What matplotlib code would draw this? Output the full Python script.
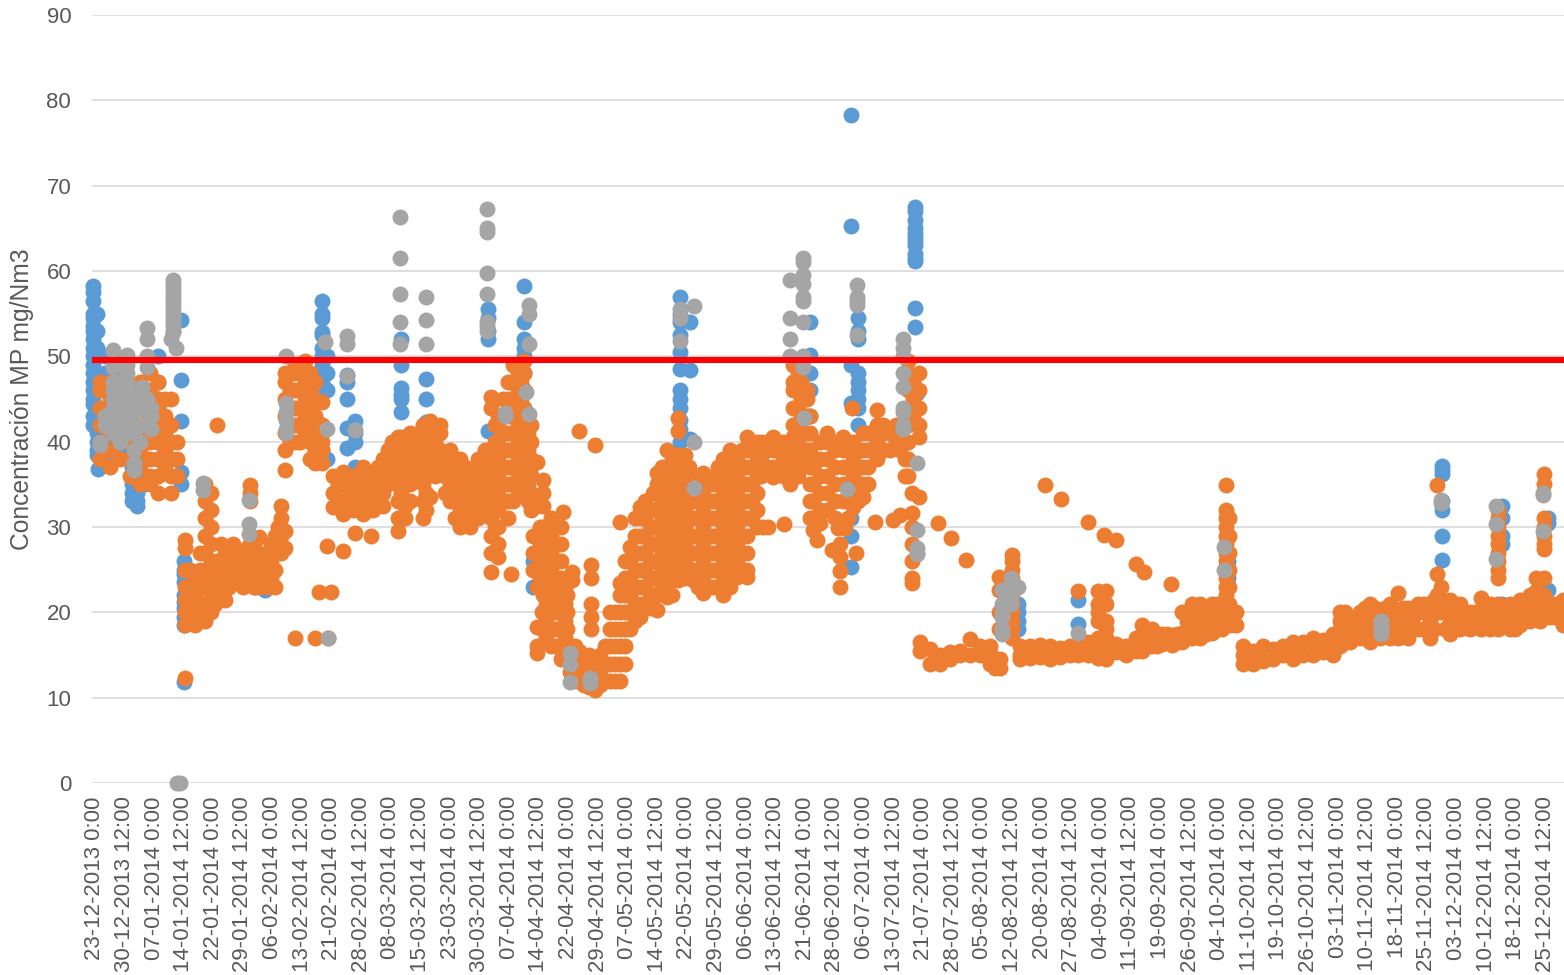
import matplotlib
matplotlib.use("Agg")
import matplotlib.pyplot as plt
from matplotlib.transforms import ScaledTranslation

plt.rcParams['font.family'] = ['Liberation Sans', 'DejaVu Sans']

tick_labels = ["23-12-2013 0:00","30-12-2013 12:00","07-01-2014 0:00","14-01-2014 12:00","22-01-2014 0:00",
"29-01-2014 12:00","06-02-2014 0:00","13-02-2014 12:00","21-02-2014 0:00","28-02-2014 12:00",
"08-03-2014 0:00","15-03-2014 12:00","23-03-2014 0:00","30-03-2014 12:00","07-04-2014 0:00",
"14-04-2014 12:00","22-04-2014 0:00","29-04-2014 12:00","07-05-2014 0:00","14-05-2014 12:00",
"22-05-2014 0:00","29-05-2014 12:00","06-06-2014 0:00","13-06-2014 12:00","21-06-2014 0:00",
"28-06-2014 12:00","06-07-2014 0:00","13-07-2014 12:00","21-07-2014 0:00","28-07-2014 12:00",
"05-08-2014 0:00","12-08-2014 12:00","20-08-2014 0:00","27-08-2014 12:00","04-09-2014 0:00",
"11-09-2014 12:00","19-09-2014 0:00","26-09-2014 12:00","04-10-2014 0:00","11-10-2014 12:00",
"19-10-2014 0:00","26-10-2014 12:00","03-11-2014 0:00","10-11-2014 12:00","18-11-2014 0:00",
"25-11-2014 12:00","03-12-2014 0:00","10-12-2014 12:00","18-12-2014 0:00","25-12-2014 12:00"]
samples_per_tick = 29.6
limit_value = 49.6

# Each row: sample number, then the concentrations read at that sample
blue_rows = [
[0,58.3,57.5,56.5,55,54.5,53.5,53,52,51,50,49,48,47,46,45,44.4,43,42],
[4,55,53,51,50,48,46,44,42,41,40,39,38.4],[5,36.8],
[12,50,48,46,44,42,40,38.5],[22,50,48,46,44,42,40,38.5],[32,46,44,42,40,38.5],
[39,37,36,35,34,33],[44,36,35,34,33,32.5],[52,38,36,35],[65,50,47,45,40,38],
[88,54.3,47.2,42.4,36.5,35],
[91,26,25,24.5,23.5,22,21.2,20.5,19.5,18.5,11.8],[97,20,19,21],[105,21,24],
[162,23,24],[172,22.6],
[229,56.5,55,54.5,52.8,52.5,51,50,49,48,47,46,42,41,39],[234,50,48,46,38],
[254,47.8,47,45,41.6,39.3],[262,42.4,41,40,37,36],[270,36],
[308,52,49,46.3,45.5,45,43.5,40.6,31],[333,47.4,45,42.3,41.5,40,38],
[395,55.5,54.5,53,52,41.3],[431,58.2,54,52,51,50,48,46,44,43,42],[437,36.5,32.8],
[440,26,23],
[587,57,55,54,52.5,50.5,48.5,46,45,44,42.5,41.5,40],[597,54,48.4,40.3],
[717,54,50.2,48,46,43],[758,78.3,65.3,49,44.5,31,28.9,25.3],
[765,54.5,53,52,48,47,46,45,44,42,33.5],
[822,67.5,67,66,65,64.5,64,63.5,63,62,61.5,61.2,55.7,53.4],[824,45.7],
[925,21,20,19,18],[985,21.5,18.6],[1135,26,25,24,23],
[1349,37.2,36.7,36.2,33,32,28.9,26.1],[1409,32.5,31,29,28,21],[1455,31,30.5,22.6],
]

orange_winter = [
[7,38,40,42,44,46,47],[17,37,39,41,43,45,47],[27,38,40,42,44,46,47],[37,36,38,40,42,44,46],
[47,35,37,39,41,43,45,47],[57,35,36,38,40,42,44,46,48],[65,34,36,38,40,42,44,45,47],
[72,37,39,41,43,45],[78,34,36,38,40,42,45],[84,36,38,40],
[92,12.3,18.5,20,21.5,23,25,27.5,28.5],[102,18.5,20,22,24],[112,19,21,23,25,27,29,31,33,35],
[118,20,22,24,26,28,30,32,34],[124,42,22,24,26],[132,21.5,23.5,25,27],[140,24,26,28],
[150,23,25,27],[157,34.9,34,33,24,26,28],[166,28.8,23,25,27],[175,23,25,27],[182,23,25,27,29],
[188,27,29,31,32.5],[192,27.5,29.5,36.7,39,41,43,45,47,48],[202,40,42,44,46,48,49],[212,41,43,45,47,49.5],
[222,37.5,39,41,43,45,47],[229,37.5,39,40,42,44.7],[202,17],[222,17],[235,17],[226,22.4],[238,22.4],
[234,27.8],[250,27.2],[262,29.3],[278,29],
[240,32.3,34,36],[250,31.5,33,35,36.5],[260,32,34,36],[270,31.5,33,35,37],[280,32,34,36],[290,32.5,34,36,38],
[299,36,38,40],[305,29.5,31,33,35,37,39,40.5],[312,31,32.5,35,37,39,40],[322,36,38,40],[330,31,33,35,37,39,41,42],
[337,33.5,37,39,41,42.4],[347,37,39,41,42],[357,33,35,37,39],[367,30,32,34,36,38],[377,30,32,34,36],
[385,31,33,35,37,38],[392,33,35,37,39],
[97,19,21,23,25],[107,19.5,21,23,25,27],[122,21,23,25],[128,22,24,26,28],[136,23,25,27],[145,24,26],
[154,23.5,25.5,27.5],[161,23,24.5,26,28],[170,23.5,25.5],[178,24,26,28],[185,28,30],
[197,40,42,44,46,48],[207,40,42,44,46,48],[217,38,40,42,44,46,48],
[245,33,35],[255,32.5,34.5,36],[265,33,35,36],[275,32,34,36],[285,33,35,37],[295,35,37,39],[308,34,36,38],
[317,33,35,37,39,41],[326,37,39,41],[333,32,34,36,38,40],[342,36,38,40],[352,34,36,38],[362,31,33,35,37],
[372,31,33,35,37],[381,32,34,36],[388,32,34,36,38],
]

orange_spring = [
[398,24.7,27,29,31,33,35,37,39,44,45.2],[405,26.5,28,30,32,34,36,38,40,42,43],
[415,31,33,35,37,39,41,43,45,47],[418,24.5],[425,34,36,38,40,42,44,46,48,49],
[431,36,38,40,42,44,46,48,49.5],[438,32,34,36,38,40,42],[444,23,25,27,29,37.6],
[450,35.5,34,32.5,30,28,26,24,22],[444,32.5],[458,31,29,27,25,23,21],[470,31.8],[468,30,28,26,24,22,20],
[444,18.3,16,15.2],[453,17,19,21],[463,16,18,20],[474,14.4,16,18,20,22],[479,24.7,23.8],
[486,41.2],[502,39.6],[498,25.5,24],[498,21,19.5,18],[477,13,15],[486,12,14,15.5],[496,11.2,13,15],
[502,10.9,12.5,14],[512,12,14,16],[522,12,14,16,18,20],[527,12,14,16,18,20,22,23.4,30.6],[537,18,20,22,24,26,27.7],
[547,19.5,21,23,25,27,29,31,32.4],[557,20.5,22,24,26,28,30],[564,20.3,22,24,26,28,30,32,34,35,36.3],
[574,21.8,23,25,27,29,31,33,35,37,39],[585,42.8,41.2,38.4,37,35,33,31,29,27,25,23.8],[592,38.4,36,34,32,30,28,26,24],
[600,23.8,25,27,29,31,33,35.5],[610,22.3,24,26,28,30,32,34,36.3],[620,23,25,27,29,31,33,35,35.9],
[630,22,24,26,28,30,32,34,36,38],[644,24.1,26,28,30,32,34,36,38,38.7],[654,24.1,25,27,29,31,33,35,37,39,40.5],
[664,30,32,34,36,38,40],[680,35.9,37,39,40.5],[670,30],[675,30],[691,30.3],[697,35,37,39,40],
[700,40.5,42,44,46,47,49],[714,37.5,39,41,43,45,46],[720,29.6,31,33,35,37],[724,28.5],
[734,32,34,36,38,40,41],[739,27.3],[745,29.9],[752,29.9],[747,26.5,24.8,23,28],[763,27],[759,44],
[750,33,35,37,39,40.5],[760,32.3,34,36,38,40],[770,33.5,35,37,39,41],[784,38,40,42,43.7],
[797,39,41,41.4],[807,39,41,42],[782,30.6],[800,30.8],[807,31.4],[815,36,38,40,42,44,46,48,49.5],
[819,34,31.6,30,28,26,24,23.4],[826,33.5,40.5,42,44,46,48],[845,30.5],
[402,30,32,34,36,38,40,42],[410,33,35,37,39,41,43,45],[420,33,35,37,39,41,43,45,47,49],
[428,37,39,41,43,45,47,49],[435,33,35,37,39,41,43],[447,24,26,28,30],[455,22,24,26,28,30],[449,18,20],
[440,25,27,29],[463,22,24,26,28],[472,15,17,19,21,23],[458,16,18],[468,14.5,16,18],
[482,12,14,16],[491,11.5,13.5,15],[507,11.5,13,15],[517,12,14,16,18,20],[532,14,16,18,20,22,24,26],
[542,19,21,23,25,27,29,31],[552,21,23,25,27,29,31,33],[560,22,24,26,28,30,32,34],[569,23,25,27,29,31,33,35,37],
[579,22,24,26,28,30,32,34,36,38],[589,24,26,28,30,32,34,36,38],[596,25,27,29,31,33,35,37],
[605,23,25,27,29,31,33,35],[615,23,25,27,29,31,33,35],[625,23,25,27,29,31,33,35,37],
[637,23,25,27,29,31,33,35,37,39],[649,25,27,29,31,33,35,37,39],[659,31,33,35,37,39,40],[668,36,38,40],
[674,37,39,40],[685,37,39],[690,36,38,40],[705,36,38,40,42,44,46,48],[708,37,39,41,43,45,47],
[717,31,33,35,37,39,41,43],[727,30.5,32,34,36,38,40],[742,31,33,35,37,39,40],[755,31,33,35,37,39],
[765,33,35,37,39],[775,35,37,39,41],[790,39,41,42],[803,40,42],[812,36,38,40,42],[820,43,45,47],
]

orange_summer = [
[827,16.5,15.5],[837,14,15.7],[847,14,15],[857,14.5,15.3],[867,15,15.5],[877,15,16.9],[887,15,16],
[897,14,15.2,16],[902,13.5,14.5],[907,13.5,14.5],[858,28.7],[873,26.1],
[906,24.1,22.6,20,18],[919,26.7,26,25,24,23,22,21,20,19,18,17],[927,15,16,14.5],[937,14.6,16],[947,14.8,16.2],
[957,14.5,16],[967,14.8,15.8],[977,15,16],[985,22.5,15,16],[995,15,16.5],[1005,14.6,15.5,17,22.5,21,20,19],
[1013,22.5,21,19,18,17,16,15,14.5],[952,34.9],[968,33.3],[995,30.6],[1011,29.1],[1023,28.5],
[1043,25.7],[1051,24.7],[1078,23.3],[1023,15.3,16.3],[1033,15,16],[1043,15.5,17],[1049,15.5,17,18.5],
[1059,16,17,18],[1069,16.3,17.5],[1079,16.2,17.4],[1089,16.5,17.6,20],[1099,17,18,19,21],[1107,17,18.5,20,21],
[1119,17.6,19,21],[1129,18,19.5,21],[1133,34.9,32,31,30,29,28,27,26,25,24,23,22,21,20,19],[1143,18.5,20],
[1064,16,17.5],[1074,16.5,17.5],[1084,16.5,17.5],[1094,17,18,19,20],[1103,17.5,19,20.5],[1113,17.5,19,20.5],
[1124,18,19.5,21],[1136,31,29,27,25,23,21],[1138,18.5,20],
]

orange_autumn = [
[1150,14,15,16],[1160,14,15.5],[1170,14.3,16],[1180,14.5,15.7],[1190,15,16],[1200,14.5,15.5,16.5],
[1210,15,16.5],[1220,15,16.5,17],[1230,15.3,16.8],[1240,15,16,17.5],[1247,16,17,18,19,20],
[1257,16.5,18,19.5],[1267,17,18.5,20],[1277,16.5,18,20,21],[1287,17,18.5,20],[1297,17,19,21],
[1305,17,18.5,20,22.3],[1315,17,19,20.5],[1325,18,20,21],[1337,17,19,21],[1344,20,22,24.5,34.9],
[1348,20,21.5,23],[1357,17.5,19,20,21.5],[1367,18,19.5,21],[1377,18,20],[1388,21.7,19,18],
[1397,18,19.5,21],[1405,32,31,30,29,28,27,26,25,24,21,19,18],[1417,18,19.5,21],[1427,18.5,20,21.5],
[1437,19,20.5,22],[1443,19.5,21,22.5,24],[1451,36.2,35,31,30,29,28,27.4,24,22,20],[1462,19.5,21],[1470,18.5,21.5],
[1252,16.5,18,20],[1262,17,19],[1272,17,19,20.5],[1282,17.5,19,20.5],[1292,17.5,19,20.5],[1301,18,20],
[1310,17.5,19,20.5],[1320,18,19.5],[1331,18,20,21],[1341,18,20,21.5],[1352,18,20],[1362,18.5,20.5],
[1372,18.5,20],[1382,18.5,20],[1392,18.5,20],[1411,18.5,20],[1422,18,20],[1432,19,21],[1447,19,21],
[1457,19.5,21],[1466,19.5,21],
]

gray_rows = [
[7,39.6,40],[12,43,42],[20,50.7,48.7,47,46,45,44,43,42,41],[27,47,46,45,44,43,42,41,40],
[34,50.2,49,48,47,46,45,44,43,42,41],[41,45,43,41,39,37.5,36.7],[47,44,42,40],[54,53.3,52,50,48.8,45,44],
[49,46.4],[58,44,43,41.5],[80,59,58.5,58,57.5,57,56.5,56,55.5,55,54.5,54,53.5,53,52.8],[78,52],[83,51],
[84,0],[87,0],
[110,35.1,34.3],[156,33.2,30.3,29.2],[193,50,44.5,43.5,42.5,41.5,41],
[232,51.7],[234,41.5],[235,17],[254,52.4,51.4,47.7],[262,41.4],
[307,66.3,61.5,57.3,54,51.5],[333,56.9,54.3,51.4],[394,67.3,65,64.6,59.8,57.3,54,53.5,53],
[412,43.4,43],[436,56,55,51.5],[433,45.8],[436,43.3],[477,15.2,14],[477,11.8],[497,12.3,11.7],
[587,55.5,54.5,51.8],[601,55.9,40,34.6],[697,59,54.5,52,50],
[710,61.5,61,59.5,58.5,57,56.5,54,50,48.7],[711,42.8],[754,34.4],[764,58.4,57,56.5,56,52.5],
[810,52,51,50,48,46.4,44,43.5,42,41.5],[824,37.5,29.7,27.5,27,26.8],
[909,22.6,21,20,19.5,18,17.5],[918,24,23,22,21],[925,23],[985,17.6],[1131,27.7,25],
[1288,19,18.5,18,17.5],[1348,33.2,32.8],[1403,32.5,30.3,26.2],[1450,34,33.7,29.5],
]

def expand(rows):
    xs, ys = [], []
    for row in rows:
        for v in row[1:]:
            xs.append(row[0]); ys.append(v)
    return xs, ys

fig = plt.figure(figsize=(15.64, 9.75), dpi=100)
ax = fig.add_axes([92/1564, 1-783/975, 1-92/1564, (783-15)/975])
ax.set_xlim(-1, 1471)
ax.set_ylim(0, 90)

ms = 132
for rows, col, z in [(blue_rows, '#5B9BD5', 3),
                     (orange_winter + orange_spring + orange_summer + orange_autumn, '#ED7D31', 4),
                     (gray_rows, '#A5A5A5', 5)]:
    xs, ys = expand(rows)
    ax.scatter(xs, ys, s=ms, c=col, linewidths=0, zorder=z, clip_on=False)

ax.plot([-1, 1471], [limit_value, limit_value], color='#FF0000', lw=4.4, zorder=6, solid_capstyle='butt')

ax.set_yticks(range(0, 100, 10))
ax.set_xticks([i*samples_per_tick for i in range(len(tick_labels))])
ax.set_xticklabels(tick_labels, rotation=90, ha='center', va='top')
ax.tick_params(axis='both', length=0, labelsize=16, labelcolor='#595959')
ax.tick_params(axis='x', pad=9.5)
ax.tick_params(axis='y', pad=15)
shift = ScaledTranslation(2/100, 0, fig.dpi_scale_trans)
for lab in ax.get_xticklabels():
    lab.set_transform(lab.get_transform() + shift)
ax.grid(axis='y', color='#D9D9D9', lw=1.2, zorder=0)
ax.set_axisbelow(True)
for s in ax.spines.values():
    s.set_visible(False)
fig.text(22/1564, 1-399/975, 'Concentración MP mg/Nm3', rotation=90, ha='center', va='center',
         fontsize=17.7, color='#595959')
fig.savefig('out.png', dpi=100)
